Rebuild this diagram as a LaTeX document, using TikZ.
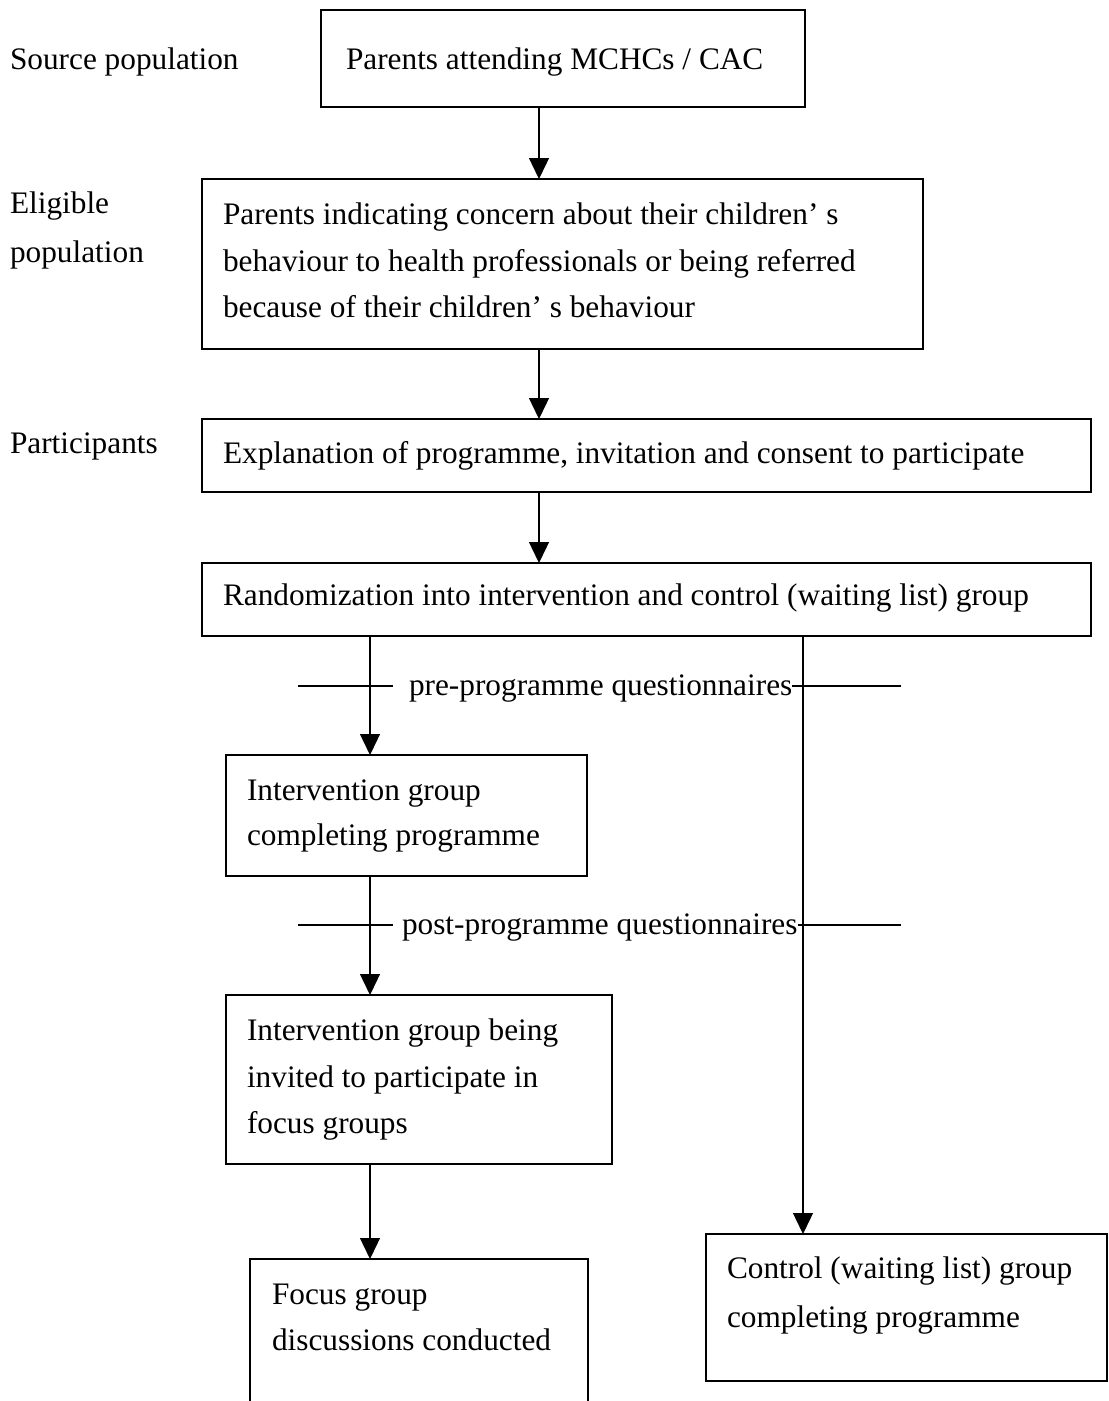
\documentclass[tikz,border=0pt]{standalone}
\usepackage{fontspec}
\setmainfont{Liberation Serif}
\usetikzlibrary{arrows.meta}
\begin{document}
\begin{tikzpicture}[x=1pt,y=-1pt,
  box/.style={draw, line width=1.3pt, inner sep=0pt, outer sep=0pt, rectangle, anchor=north west},
  lbl/.style={anchor=base west, inner sep=0pt, outer sep=0pt, font=\fontsize{31.3}{46}\selectfont},
  arr/.style={line width=1.3pt, -{Triangle[length=21pt,width=20pt]}},
  ln/.style={line width=1.3pt}]
\useasboundingbox (0,0) rectangle (1109,1401);
\clip (0,0) rectangle (1109,1401);
% boxes
\node[box, minimum width=484pt, minimum height=97pt] (b1) at (321,10) {};
\node[box, minimum width=721pt, minimum height=170pt] (b2) at (202,179) {};
\node[box, minimum width=889pt, minimum height=73pt] (b3) at (202,419) {};
\node[box, minimum width=889pt, minimum height=73pt] (b4) at (202,563) {};
\node[box, minimum width=361pt, minimum height=121pt] (b5) at (226,755) {};
\node[box, minimum width=386pt, minimum height=169pt] (b6) at (226,995) {};
\node[box, minimum width=338pt, minimum height=220pt] (b7) at (250,1259) {};
\node[box, minimum width=401pt, minimum height=147pt] (b8) at (706,1234) {};
% side labels
\node[lbl] (s1) at (10,69) {Source population};
\node[lbl] (s2a) at (10,213) {Eligible};
\node[lbl] (s2b) at (10,262) {population};
\node[lbl] (s3) at (10,453) {Participants};
% box texts
\node[lbl] (t1) at (346,69) {Parents attending MCHCs / CAC};
\node[lbl] (t2a) at (223,224) {Parents indicating concern about their children’ s};
\node[lbl] (t2b) at (223,271) {behaviour to health professionals or being referred};
\node[lbl] (t2c) at (223,317) {because of their children’ s behaviour};
\node[lbl] (t3) at (223,463) {Explanation of programme, invitation and consent to participate};
\node[lbl] (t4) at (223,605) {Randomization into intervention and control (waiting list) group};
\node[lbl] (t5a) at (247,800) {Intervention group};
\node[lbl] (t5b) at (247,845) {completing programme};
\node[lbl] (t6a) at (247,1040) {Intervention group being};
\node[lbl] (t6b) at (247,1087) {invited to participate in};
\node[lbl] (t6c) at (247,1133) {focus groups};
\node[lbl] (t7a) at (272,1304) {Focus group};
\node[lbl] (t7b) at (272,1350) {discussions conducted};
\node[lbl] (t8a) at (727,1278) {Control (waiting list) group};
\node[lbl] (t8b) at (727,1327) {completing programme};
% column coordinates
\coordinate (cm) at (539,0);
\coordinate (cl) at (370,0);
\coordinate (cr) at (803,0);
% arrows
\draw[arr] (b1.south -| cm) -- (b2.north -| cm);
\draw[arr] (b2.south -| cm) -- (b3.north -| cm);
\draw[arr] (b3.south -| cm) -- (b4.north -| cm);
\draw[arr] (b4.south -| cl) -- (b5.north -| cl);
\draw[arr] (b5.south -| cl) -- (b6.north -| cl);
\draw[arr] (b6.south -| cl) -- (b7.north -| cl);
\draw[arr] (b4.south -| cr) -- (b8.north -| cr);
% questionnaire marks
\coordinate (q1a) at (298,686);
\coordinate (q1b) at (393,686);
\coordinate (q1c) at (901,686);
\node[lbl] (q1) at (409,695) {pre-programme questionnaires};
\draw[ln] (q1a) -- (q1b);
\draw[ln] (q1.east |- q1c) -- (q1c);
\coordinate (q2a) at (298,925);
\coordinate (q2b) at (393,925);
\coordinate (q2c) at (901,925);
\node[lbl] (q2) at (402,934) {post-programme questionnaires};
\draw[ln] (q2a) -- (q2b);
\draw[ln] (q2.east |- q2c) -- (q2c);
\end{tikzpicture}
\end{document}
